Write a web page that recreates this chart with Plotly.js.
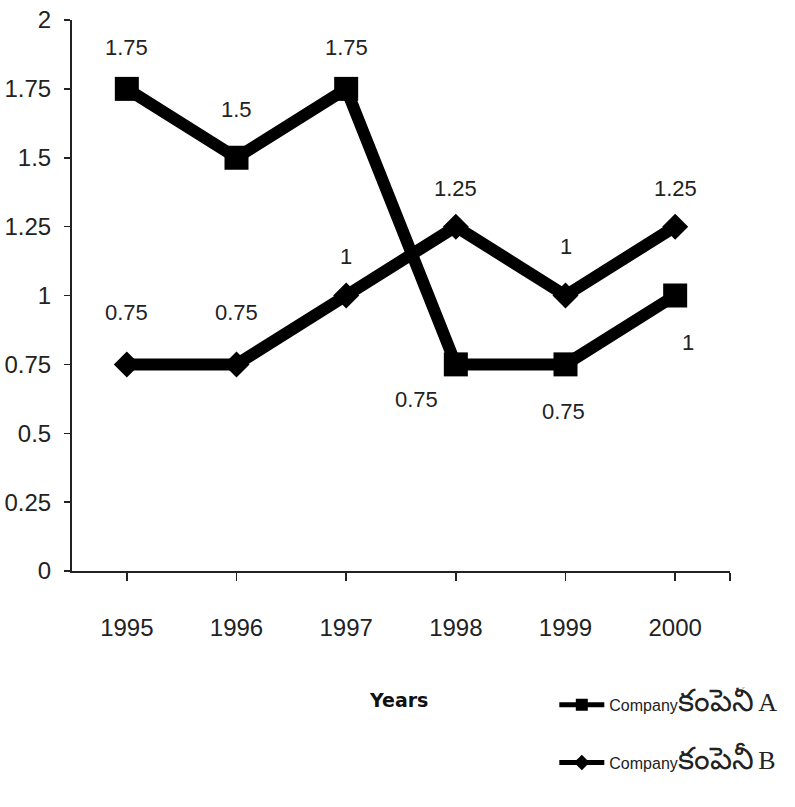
<!DOCTYPE html>
<html>
<head>
<meta charset="utf-8">
<script src="https://cdn.plot.ly/plotly-3.0.1.min.js"></script>
<style>html,body{margin:0;padding:0;background:#fff;}</style>
</head>
<body>
<div id="chart" style="width:795px;height:807px;"></div>
<script>
// ---- data ----
const years = ['1995', '1996', '1997', '1998', '1999', '2000'];
const companyA = [1.75, 1.5, 1.75, 0.75, 0.75, 1];
const companyB = [0.75, 0.75, 1, 1.25, 1, 1.25];
const yTicks = [0, 0.25, 0.5, 0.75, 1, 1.25, 1.5, 1.75, 2];
const teluguWord = 'కంపెనీ';
const nameA = 'Company<span style="font-size:31px">' + teluguWord + '</span> <span style="font-family:\'Liberation Serif\',serif;font-size:26px">A</span>';
const nameB = 'Company<span style="font-size:31px">' + teluguWord + '</span> <span style="font-family:\'Liberation Serif\',serif;font-size:26px">B</span>';

// label placement (pixel offsets from each point)
const shiftA = [[0, 41], [0, 48], [0, 41], [-39, -35], [-2, -47], [13, -47]];
const shiftB = [[0, 52], [0, 52], [0, 39], [0, 38], [0, 49], [0, 38]];

const xIdx = years.map((_, i) => i);
const sans = "'Liberation Sans',Arial,sans-serif";
const tickFont = {family: sans, size: 24, color: '#222'};
const labelFont = {family: sans, size: 22, color: '#222'};

const traces = [
  {
    x: xIdx, y: companyA, name: nameA, type: 'scatter', mode: 'lines+markers',
    legendgroup: 'A',
    line: {color: '#000', width: 12},
    marker: {symbol: 'square', size: 24, color: '#000'},
    hoverinfo: 'y'
  },
  {
    x: xIdx, y: companyB, name: nameB, type: 'scatter', mode: 'lines+markers',
    legendgroup: 'B',
    line: {color: '#000', width: 12},
    marker: {symbol: 'diamond', size: 20, color: '#000'},
    hoverinfo: 'y'
  }
];

const annotations = [];
companyA.forEach((v, i) => annotations.push({
  x: xIdx[i], y: v, xref: 'x', yref: 'y', text: String(v), showarrow: false,
  xshift: shiftA[i][0], yshift: shiftA[i][1], font: labelFont
}));
companyB.forEach((v, i) => annotations.push({
  x: xIdx[i], y: v, xref: 'x', yref: 'y', text: String(v), showarrow: false,
  xshift: shiftB[i][0], yshift: shiftB[i][1], font: labelFont
}));
annotations.push({
  x: 0.4955, y: -0.235, xref: 'paper', yref: 'paper', xanchor: 'center', yanchor: 'middle',
  text: '<b>Years</b>', showarrow: false,
  font: {family: "'DejaVu Sans',Verdana,sans-serif", size: 19, color: '#111'}
});

const layout = {
  width: 795, height: 807,
  margin: {l: 72, r: 65, t: 20, b: 236},
  paper_bgcolor: '#fff', plot_bgcolor: '#fff',
  showlegend: true,
  xaxis: {
    range: [-0.5, 5.5],
    tickvals: xIdx.concat([5.5]),
    ticktext: years.concat(['']),
    showgrid: false, zeroline: false,
    showline: true, linecolor: '#222', linewidth: 2,
    ticks: 'outside', ticklen: 8, tickwidth: 1.5, tickcolor: '#222',
    ticklabelstandoff: 26,
    tickfont: tickFont
  },
  yaxis: {
    range: [0, 2],
    tickvals: yTicks,
    ticktext: yTicks.map(String),
    showgrid: false, zeroline: false,
    showline: true, linecolor: '#222', linewidth: 2,
    ticks: 'outside', ticklen: 6, tickwidth: 1.5, tickcolor: '#222',
    ticklabelstandoff: 8,
    tickfont: tickFont
  },
  legend: {
    x: 0.733, y: -0.212, xanchor: 'left', yanchor: 'top',
    traceorder: 'grouped', tracegroupgap: 34,
    itemsizing: 'constant', itemwidth: 45,
    font: {family: sans, size: 16, color: '#222'},
    bgcolor: 'rgba(0,0,0,0)'
  },
  annotations: annotations
};

Plotly.newPlot('chart', traces, layout, {displayModeBar: false, staticPlot: true});
</script>
</body>
</html>
